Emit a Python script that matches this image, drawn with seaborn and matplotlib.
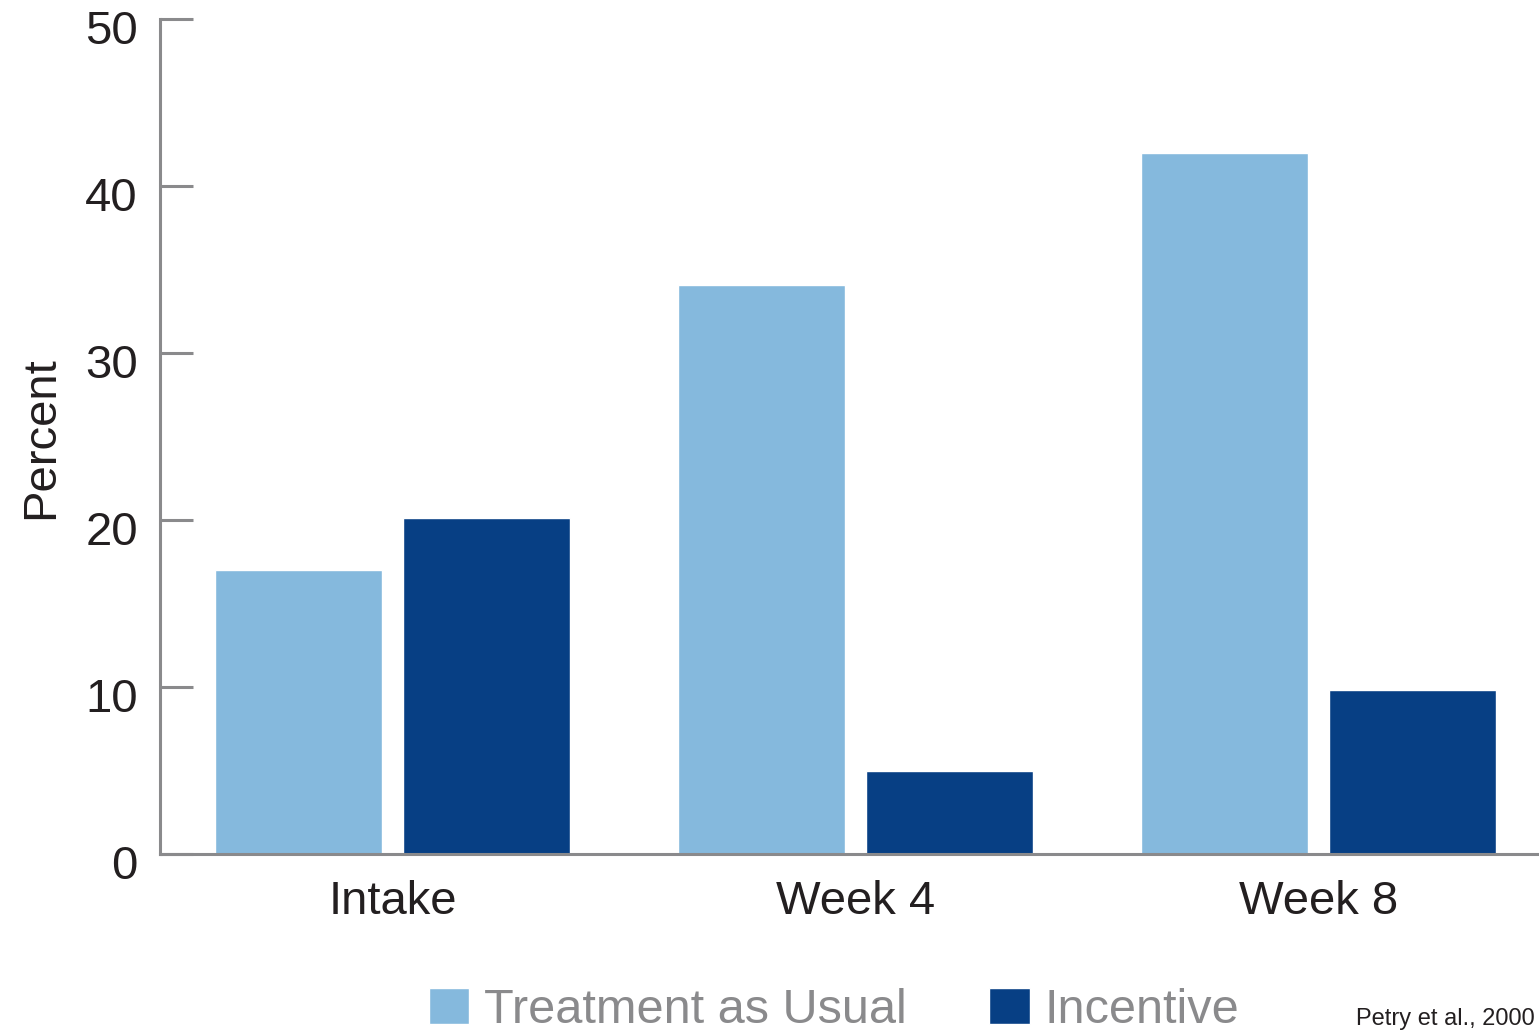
import matplotlib
matplotlib.use("Agg")
import matplotlib.pyplot as plt
from matplotlib.transforms import ScaledTranslation
import seaborn as sns
import pandas as pd

categories = ["Intake", "Week 4", "Week 8"]
groups = ["Treatment as Usual", "Incentive"]
tau_values = [17.0, 34.1, 42.0]
incentive_values = [20.1, 5.0, 9.8]
y_ticks = [0, 10, 20, 30, 40, 50]
source_note = "Petry et al., 2000"

light = "#85b9dd"
dark = "#073f84"
axis_gray = "#8a8a8c"
text_dark = "#231f20"

sns.set_theme(style="white")
plt.rcParams["font.family"] = ["Liberation Sans", "DejaVu Sans"]

df = pd.DataFrame({
    "Time": categories * 2,
    "Percent": tau_values + incentive_values,
    "Group": [groups[0]] * 3 + [groups[1]] * 3,
})

fig = plt.figure(figsize=(15.39, 10.32), dpi=100)
ax = fig.add_axes([160 / 1539, 178 / 1032, 1 - 160 / 1539, (854 - 19) / 1032])

sns.barplot(data=df, x="Time", y="Percent", hue="Group", order=categories,
            hue_order=groups, palette=[light, dark], saturation=1,
            width=0.812, gap=0.112, ax=ax, errorbar=None)

ax.set_xlim(-0.502, 2.476)
ax.set_ylim(0, 50)
ax.set_yticks(y_ticks)
ax.set_xlabel("")
ax.set_ylabel("Percent", fontsize=34, color=text_dark)
ax.yaxis.set_label_coords(-0.0706, 0.499)

for s in ["top", "right"]:
    ax.spines[s].set_visible(False)
for s in ["left", "bottom"]:
    ax.spines[s].set_color(axis_gray)
    ax.spines[s].set_linewidth(2.2)

ax.tick_params(axis="y", direction="in", length=24, width=2.2, color=axis_gray,
               labelsize=34, labelcolor=text_dark, pad=16, left=True)
ax.tick_params(axis="x", length=0, labelsize=34, labelcolor=text_dark, pad=18.5)

off = ScaledTranslation(0, -8 / 100, fig.dpi_scale_trans)
for lab in ax.get_yticklabels():
    lab.set_transform(lab.get_transform() + off)

handles, labels = ax.get_legend_handles_labels()
ax.get_legend().remove()
leg = fig.legend(handles, labels, loc="center", bbox_to_anchor=(834 / 1539, 0.021),
                 ncol=2, frameon=False, fontsize=35, handlelength=0.83,
                 handleheight=0.78, handletextpad=0.3, columnspacing=1.7)
for t in leg.get_texts():
    t.set_color(axis_gray)

fig.text(1356 / 1539, 0.007, source_note, fontsize=17, color=text_dark,
         ha="left", va="baseline")

fig.savefig("out.png", dpi=100)
